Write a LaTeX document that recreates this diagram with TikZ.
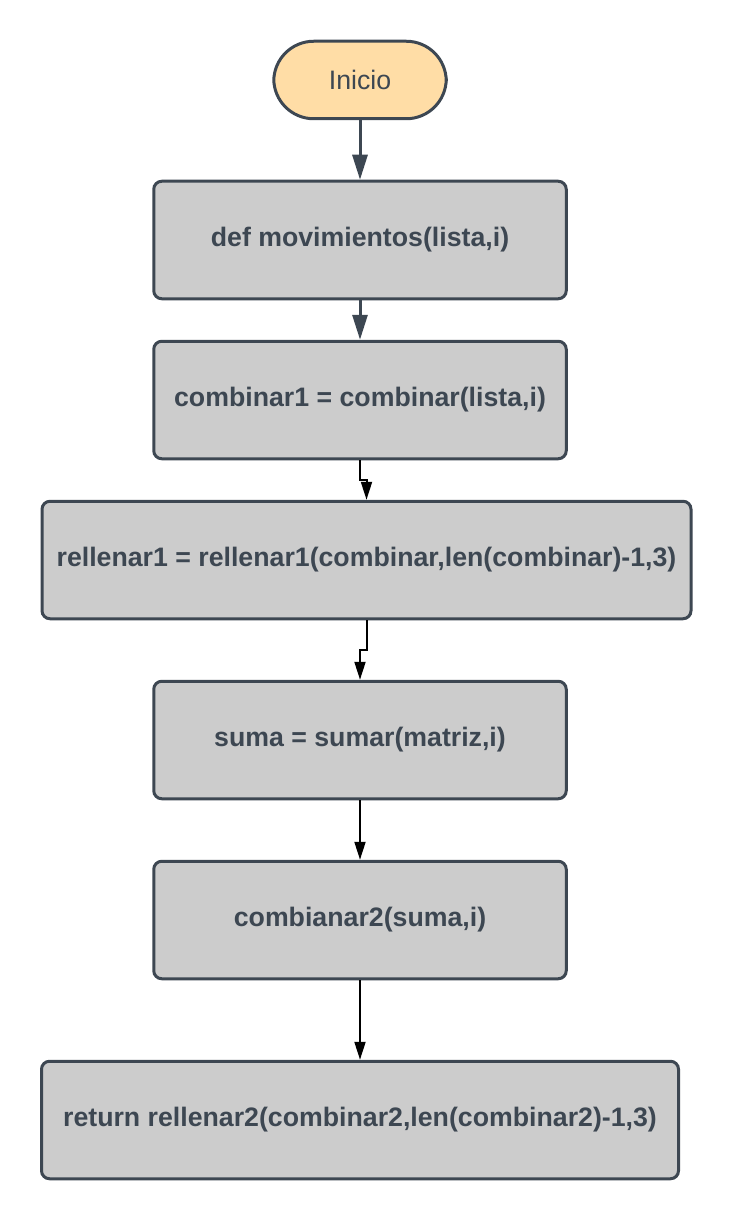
\documentclass[tikz,border=0pt]{standalone}
\usepackage{fontspec}
\setmainfont{Liberation Sans}
\usetikzlibrary{arrows.meta}
\definecolor{borde}{HTML}{3D4752}
\definecolor{gris}{HTML}{CCCCCC}
\definecolor{naranja}{HTML}{FFDDA6}
\begin{document}
\begin{tikzpicture}[node distance=3.2cm]
        \tikzstyle{inicio} = [rectangle, rounded corners=0.8cm, minimum width=3.45cm, minimum height=1.55cm, text centered, draw=borde, line width=0.06cm, fill=naranja, text=borde, font=\fontsize{15.2}{18}\selectfont]
        \tikzstyle{proceso} = [rectangle, rounded corners=0.16cm, minimum width=8.25cm, minimum height=2.35cm, text centered, draw=borde, line width=0.06cm, fill=gris, text=borde, font=\fontsize{15.2}{18}\selectfont\bfseries]
        \tikzstyle{flecha_gris} = [draw=borde, line width=0.06cm, -{Triangle[length=0.5cm,width=0.3cm]}]
        \tikzstyle{flecha} = [draw=black, line width=0.04cm, -{Triangle[length=0.36cm,width=0.22cm]}]
        \useasboundingbox (0,0) rectangle (14.64,-24.4);
        \node (inicio) [inicio] at (7.2,-1.6) {Inicio};
        \node (def_mov) [proceso, below of=inicio]{def movimientos(lista,i)};
        \node (combinar1) [proceso, below of=def_mov]{combinar1 = combinar(lista,i)};
        \node (rellenar1) [proceso, below of=combinar1, xshift=0.13cm, minimum width=12.98cm]{rellenar1 = rellenar1(combinar,len(combinar)-1,3)};
        \node (suma) [proceso, below of=rellenar1, xshift=-0.13cm, yshift=-0.4cm]{suma = sumar(matriz,i)};
        \node (combianar2) [proceso, below of=suma, yshift=-0.4cm]{combianar2(suma,i)};
        \node (retorno) [proceso, below of=combianar2, yshift=-0.8cm, minimum width=12.74cm]{return rellenar2(combinar2,len(combinar2)-1,3)};
        \draw[flecha_gris] (inicio.south) -- (def_mov.north);
        \draw[flecha_gris] (def_mov.south) -- (combinar1.north);
        \draw[flecha] (combinar1.south) -- ++(0,-0.4) -| (rellenar1.north);
        \draw[flecha] (rellenar1.south) -- ++(0,-0.6) -| (suma.north);
        \draw[flecha] (suma.south) -- (combianar2.north);
        \draw[flecha] (combianar2.south) -- (retorno.north);
\end{tikzpicture}
\end{document}
